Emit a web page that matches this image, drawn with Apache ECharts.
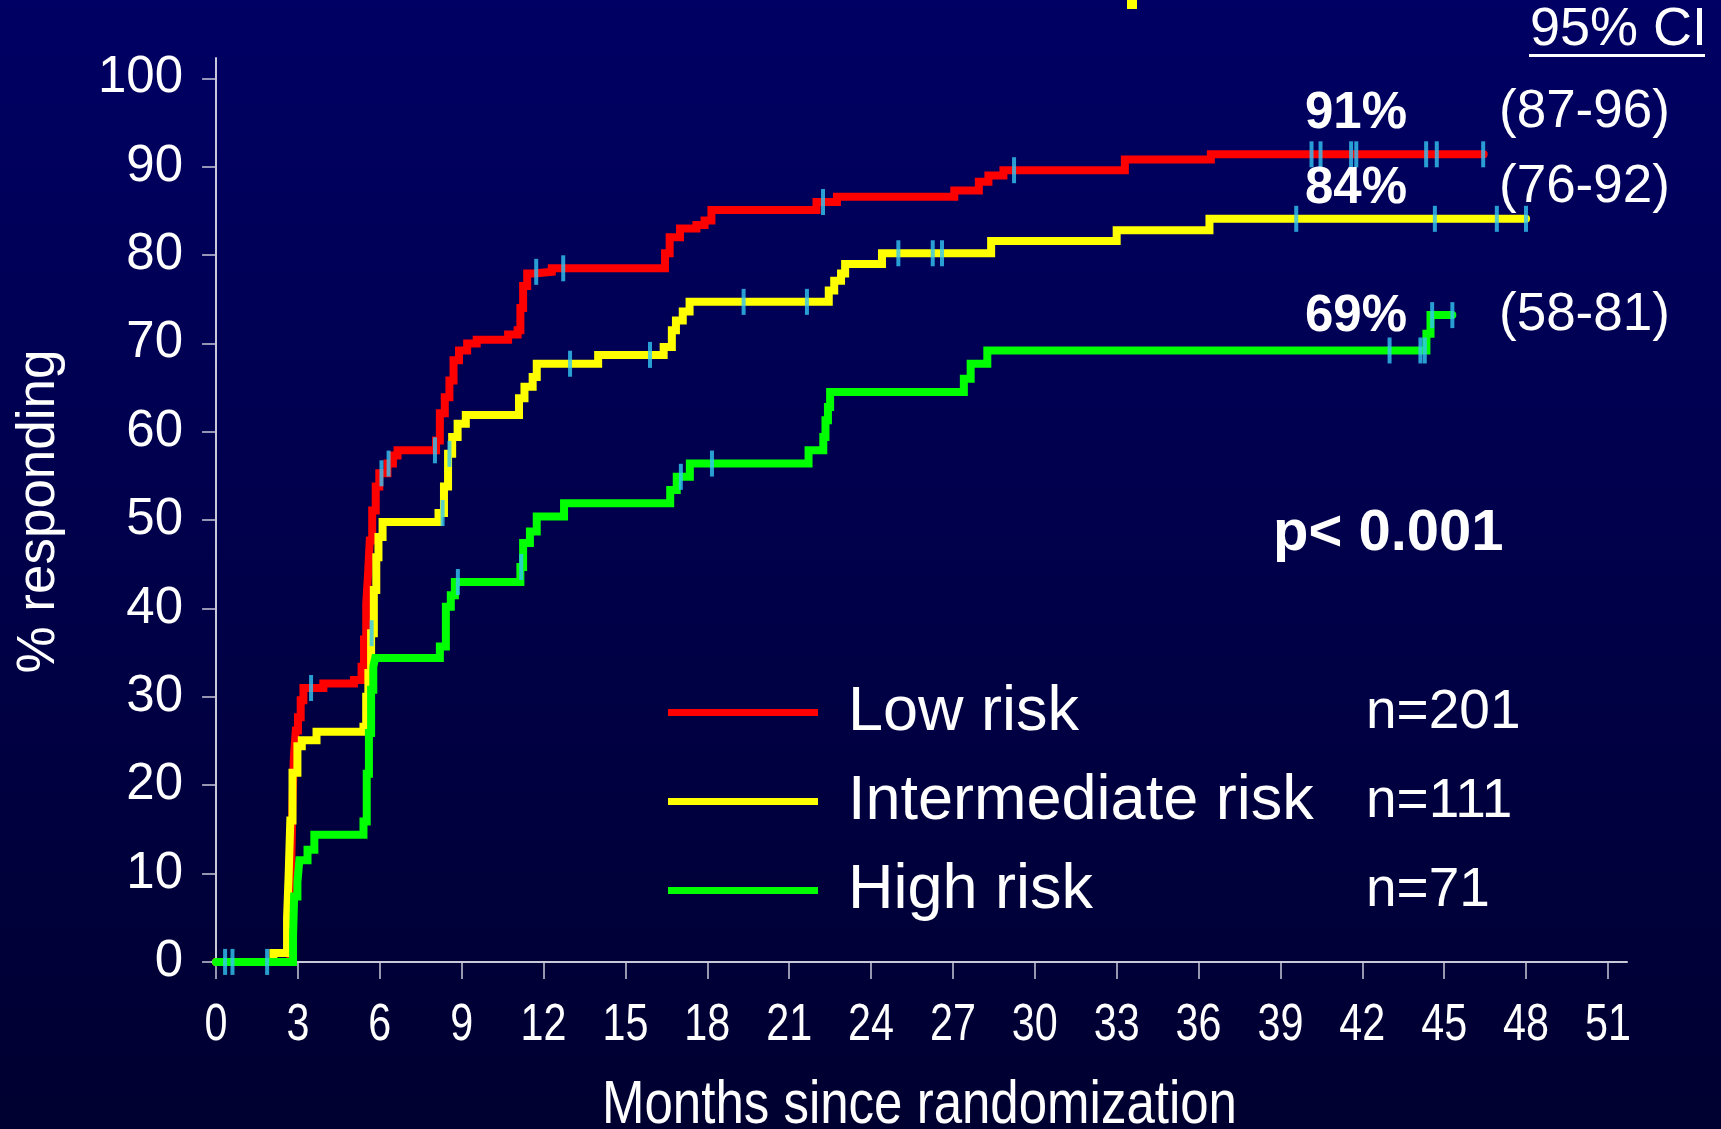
<!DOCTYPE html>
<html>
<head>
<meta charset="utf-8">
<title>Response by risk group</title>
<script src="https://cdn.jsdelivr.net/npm/echarts@6/dist/echarts.min.js"></script>
<style>
  html, body { margin: 0; padding: 0; background: #000048; }
  #chart { width: 1721px; height: 1129px; }
</style>
</head>
<body>
<div id="chart"></div>
<script>
// Axis ticks
const monthTicks = [0, 3, 6, 9, 12, 15, 18, 21, 24, 27, 30, 33, 36, 39, 42, 45, 48, 51];
const pctTicks = [0, 10, 20, 30, 40, 50, 60, 70, 80, 90, 100];

// Groups
const groupNames = ['Low risk', 'Intermediate risk', 'High risk'];
const groupSizes = ['n=201', 'n=111', 'n=71'];
const ciLabels = ['(87-96)', '(76-92)', '(58-81)'];
const estimateMonth = 44;

// Cumulative % responding: [month, percent] at each step
const lowRisk = [
  [0, 0], [2.72, 6], [2.76, 12], [2.8, 18], [2.85, 23.2], [2.92, 26.2], [3.0, 27.7], [3.1, 29.6],
  [3.2, 31.0], [3.93, 31.5], [5.05, 31.9], [5.33, 33.4], [5.42, 36.5], [5.5, 40.5], [5.57, 44.0],
  [5.63, 47.7], [5.72, 51.1], [5.85, 53.8], [5.98, 55.3], [6.28, 56.4], [6.48, 57.3], [6.65, 57.9],
  [8.06, 59.0], [8.2, 62.1], [8.38, 63.9], [8.55, 65.8], [8.7, 68.1], [8.9, 69.2], [9.2, 70.0],
  [9.55, 70.4], [10.7, 71.0], [11.05, 71.5], [11.15, 74.0], [11.25, 76.5], [11.4, 77.9],
  [11.65, 78.1], [12.3, 78.5], [16.45, 80.2], [16.62, 82.0], [17.0, 83.0], [17.6, 83.4],
  [17.9, 83.9], [18.15, 85.1], [22.0, 86.0], [22.75, 86.6], [27.05, 87.3], [27.95, 88.3],
  [28.3, 89.0], [28.85, 89.6], [33.3, 90.8], [36.45, 91.4], [46.45, 91.4]
];
const intermediateRisk = [
  [0, 0], [2.1, 1.0], [2.6, 5], [2.66, 10], [2.72, 16], [2.8, 21.4], [2.98, 24.4], [3.14, 25.1],
  [3.68, 26.05], [5.4, 26.6], [5.5, 30.0], [5.58, 32.7], [5.68, 37.2], [5.78, 42.1], [5.87, 45.8],
  [5.95, 48.1], [6.1, 49.8], [8.15, 50.8], [8.35, 53.8], [8.5, 57.5], [8.65, 59.4], [8.85, 60.9],
  [9.15, 61.9], [11.1, 63.8], [11.3, 65.1], [11.6, 66.2], [11.75, 67.7], [14.0, 68.7], [16.4, 69.6],
  [16.7, 71.5], [16.85, 72.6], [17.1, 73.6], [17.35, 74.7], [22.45, 76.0], [22.65, 77.1],
  [22.9, 77.9], [23.05, 79.0], [24.4, 80.2], [28.4, 81.6], [33.0, 82.8], [36.4, 84.1], [48.0, 84.1]
];
const highRisk = [
  [0, 0], [2.82, 3.0], [2.86, 7.4], [2.98, 9.0], [3.05, 11.5], [3.35, 12.7], [3.6, 14.4],
  [5.4, 15.9], [5.52, 21.3], [5.6, 25.9], [5.68, 30.8], [5.76, 33.4], [5.83, 34.4], [8.2, 35.7],
  [8.42, 40.2], [8.6, 41.5], [8.75, 43.0], [11.15, 44.7], [11.25, 47.4], [11.5, 48.7],
  [11.75, 50.4], [12.75, 51.9], [16.64, 53.4], [16.88, 54.9], [17.36, 56.4], [21.71, 57.9],
  [22.25, 59.4], [22.33, 61.3], [22.42, 62.8], [22.5, 64.5], [27.4, 66.0], [27.65, 67.7],
  [28.26, 69.2], [44.35, 71.1], [44.5, 73.2], [45.3, 73.2]
];

// Censoring times (months)
const lowCensored = [3.48, 6.06, 6.32, 8.02, 11.73, 12.72, 22.24, 29.24, 40.14, 40.47, 41.59, 41.78, 44.34, 44.73, 46.43];
const intermediateCensored = [5.7, 8.3, 8.55, 12.97, 15.9, 19.33, 21.65, 25.0, 26.26, 26.6, 39.58, 44.66, 46.93, 48.0];
const highCensored = [0.33, 0.6, 1.87, 8.86, 11.18, 17.03, 18.17, 43.0, 44.13, 44.29, 44.56, 45.3];

const curves = [lowRisk, intermediateRisk, highRisk];
const censored = [lowCensored, intermediateCensored, highCensored];
const lineColors = ['#ff0000', '#ffff00', '#00ff00'];
const censorColor = '#33c6f4';
const axisColor = '#c8c8d8';
const sans = '"Liberation Sans", Arial, Helvetica, sans-serif';

// Step-function value of a curve at time t
function valueAt(curve, t) {
  let v = 0;
  for (const [m, p] of curve) {
    if (m <= t + 1e-9) v = p; else break;
  }
  return v;
}

const chart = echarts.init(document.getElementById('chart'), null, { renderer: 'canvas' });

const lineSeries = curves.map((curve, i) => ({
  name: groupNames[i],
  type: 'line',
  step: 'end',
  data: curve,
  showSymbol: false,
  symbol: 'none',
  silent: true,
  z: 2 + i,
  lineStyle: { color: lineColors[i], width: 8, cap: 'round', join: 'miter' },
  itemStyle: { color: lineColors[i] }
}));

const censorSeries = censored.map((times, i) => ({
  name: groupNames[i] + ' (censored)',
  type: 'scatter',
  data: times.map(t => [t, valueAt(curves[i], t)]),
  symbol: 'rect',
  symbolSize: [4, 26],
  silent: true,
  z: 10,
  itemStyle: { color: censorColor }
}));

chart.setOption({
  animation: false,
  backgroundColor: {
    type: 'linear', x: 0, y: 0, x2: 0, y2: 1,
    colorStops: [{ offset: 0, color: '#000064' }, { offset: 1, color: '#000030' }]
  },
  grid: { left: 212, right: 94, top: 58, bottom: 164, containLabel: false, outerBoundsMode: 'none' },
  xAxis: {
    type: 'value', min: -0.15, max: 51.7,
    axisLine: { show: true, lineStyle: { color: axisColor, width: 2 } },
    axisTick: { show: true, length: 17, customValues: monthTicks, lineStyle: { color: axisColor, width: 1.5 } },
    axisLabel: { show: false },
    splitLine: { show: false }
  },
  yAxis: {
    type: 'value', min: -0.35, max: 102.3,
    name: '% responding', nameLocation: 'middle', nameGap: 146, nameRotate: 90,
    nameTextStyle: { color: '#ffffff', fontSize: 53, fontFamily: sans },
    axisLine: { show: true, lineStyle: { color: axisColor, width: 2 } },
    axisTick: { show: true, length: 14, customValues: pctTicks, lineStyle: { color: axisColor, width: 1.5 } },
    axisLabel: { customValues: pctTicks, color: '#ffffff', fontSize: 51, fontFamily: sans, margin: 29, padding: [8, 0, 0, 0] },
    splitLine: { show: false }
  },
  legend: {
    orient: 'vertical', left: 668, top: 681, padding: 0,
    itemWidth: 150, itemHeight: 7, itemGap: 26, icon: 'rect',
    selectedMode: false,
    data: groupNames.map((n, i) => ({ name: n, itemStyle: { color: lineColors[i] } })),
    formatter: name => '{a|' + name + '}{b|' + groupSizes[groupNames.indexOf(name)] + '}',
    textStyle: {
      rich: {
        a: { fontSize: 63, color: '#ffffff', fontFamily: sans, width: 518, padding: [0, 0, 0, 25], lineHeight: 70 },
        b: { fontSize: 55, color: '#ffffff', fontFamily: sans, lineHeight: 70 }
      }
    }
  },
  series: lineSeries.concat(censorSeries)
});

// Condensed month labels and axis title, placed through the x axis scale
const axisY = chart.convertToPixel({ yAxisIndex: 0 }, -0.35);
const graphics = monthTicks.map(m => ({
  type: 'text',
  x: chart.convertToPixel({ xAxisIndex: 0 }, m),
  y: axisY + 61,
  scaleX: 0.81,
  z: 20,
  style: { text: String(m), fill: '#ffffff', font: '51px ' + sans, align: 'center', verticalAlign: 'middle' }
}));
graphics.push({
  type: 'text',
  x: (chart.convertToPixel({ xAxisIndex: 0 }, -0.15) + chart.convertToPixel({ xAxisIndex: 0 }, 51.7)) / 2,
  y: axisY + 141,
  scaleX: 0.836,
  z: 20,
  style: { text: 'Months since randomization', fill: '#ffffff', font: '61px ' + sans, align: 'center', verticalAlign: 'middle' }
});

// Response estimates with confidence intervals
const estimates = curves.map(c => Math.round(valueAt(c, estimateMonth)));
const estimateY = [114, 189, 317];
estimates.forEach((v, i) => {
  graphics.push({
    type: 'text', left: 1305, top: estimateY[i] - 26, z: 20,
    style: { text: v + '%', fill: '#ffffff', font: 'bold 51px ' + sans }
  });
  graphics.push({
    type: 'text', left: 1499, top: estimateY[i] - 28, z: 20,
    style: { text: ciLabels[i], fill: '#ffffff', font: '53px ' + sans }
  });
});
graphics.push(
  { type: 'text', left: 1530, top: 3, z: 20,
    style: { text: '95% CI', fill: '#ffffff', font: '54px ' + sans } },
  { type: 'rect', shape: { x: 1529, y: 54, width: 176, height: 3 }, z: 20,
    style: { fill: '#ffffff' } },
  { type: 'text', left: 1273, top: 505, z: 20,
    style: { text: 'p< 0.001', fill: '#ffffff', font: 'bold 58px ' + sans } },
  { type: 'rect', shape: { x: 1127, y: 0, width: 10, height: 9 }, z: 20,
    style: { fill: '#ffff00' } }
);

chart.setOption({ graphic: graphics });
</script>
</body>
</html>
